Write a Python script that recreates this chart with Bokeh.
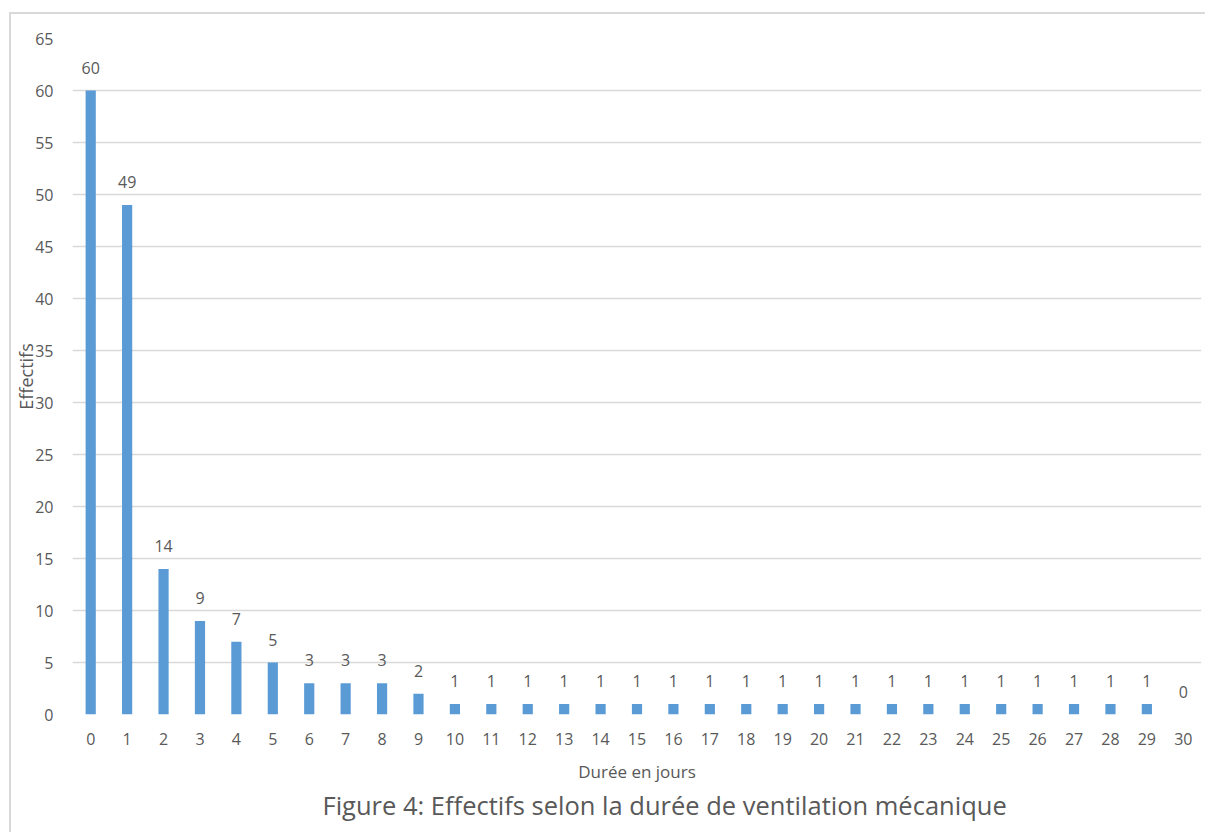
from bokeh.plotting import figure
from bokeh.models import ColumnDataSource, Range1d, FixedTicker, Title
from bokeh.core.properties import value
from bokeh.embed import file_html
from bokeh.resources import INLINE

days = list(range(0, 31))
counts = [60, 49, 14, 9, 7, 5, 3, 3, 3, 2] + [1] * 20 + [0]
y_ticks = list(range(0, 70, 5))
x_title = "Durée en jours"
y_title = "Effectifs"
caption = "Figure 4: Effectifs selon la durée de ventilation mécanique"

FONT = "Open Sans"
TXT = "#595959"
BAR = "#5B9BD5"
GRID = "#D9D9D9"

src = ColumnDataSource(dict(x=days, top=counts, lbl=[str(c) for c in counts]))

p = figure(width=1196, height=820, output_backend="svg", toolbar_location=None,
           x_range=Range1d(-0.5, 30.5), y_range=Range1d(0, 65),
           min_border_left=61, min_border_right=6, min_border_top=24, min_border_bottom=120)
p.styles = {"border-left": "2px solid #D9D9D9", "border-top": "2px solid #D9D9D9",
            "margin-top": "12px", "margin-left": "9px"}
p.outline_line_color = None
p.background_fill_color = "white"

p.vbar(x="x", top="top", width=0.28, bottom=0, source=src, fill_color=BAR,
       line_color=None)
p.text(x="x", y="top", text="lbl", source=src, text_align="center",
       text_baseline="bottom", y_offset=-17, text_font=value(FONT),
       text_font_size="16px", text_color=TXT)

p.xaxis.ticker = FixedTicker(ticks=days)
p.yaxis.ticker = FixedTicker(ticks=y_ticks)
for ax in (p.xaxis, p.yaxis):
    ax.axis_line_color = None
    ax.major_tick_line_color = None
    ax.minor_tick_line_color = None
    ax.major_label_text_font = FONT
    ax.major_label_text_font_size = "16px"
    ax.major_label_text_color = TXT
    ax.axis_label_text_font = FONT
    ax.axis_label_text_font_style = "normal"
    ax.axis_label_text_color = TXT
p.xaxis.major_label_standoff = 12
p.yaxis.major_label_standoff = 13

p.xaxis.axis_label = x_title
p.xaxis.axis_label_text_font_size = "17px"
p.xaxis.axis_label_standoff = 12
p.yaxis.axis_label = y_title
p.yaxis.axis_label_text_font_size = "18px"
p.yaxis.axis_label_standoff = -6

p.xgrid.grid_line_color = None
p.ygrid.grid_line_color = GRID
p.ygrid.grid_line_width = 1.5
p.ygrid.ticker = FixedTicker(ticks=y_ticks)

p.add_layout(Title(text=caption, align="left", offset=250, text_font=FONT,
                   text_font_size="25.5px", text_font_style="normal",
                   text_color=TXT, standoff=1), "below")

open("out.html", "w").write(file_html(p, INLINE))
